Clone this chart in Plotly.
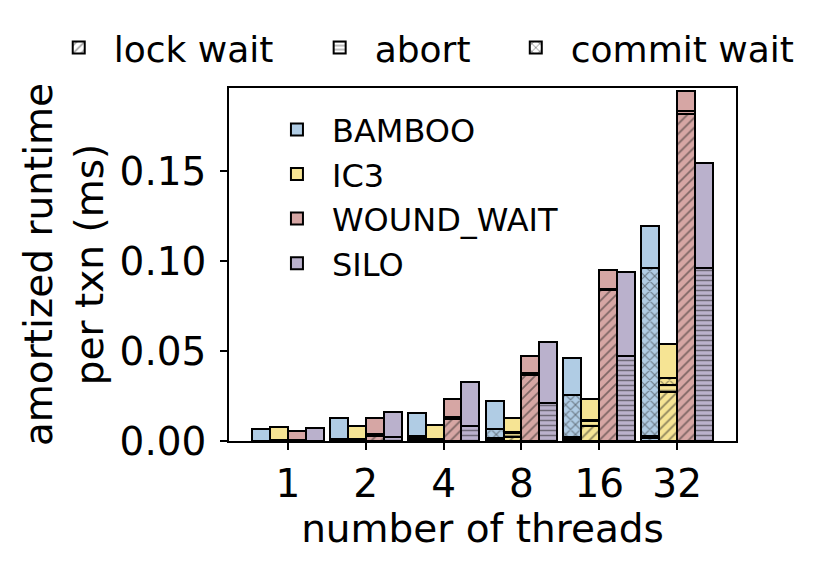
import numpy as np
import plotly.graph_objects as go

# thread counts (x categories) and systems
threads = ["1", "2", "4", "8", "16", "32"]
systems = ["BAMBOO", "IC3", "WOUND_WAIT", "SILO"]
colors = ["#b0cce4", "#f6e494", "#d6a6a4", "#bab1cc"]

# total amortized runtime per txn (ms)
total_bamboo = [0.0065, 0.0128, 0.0158, 0.0221, 0.0463, 0.1197]
total_ic3 = [0.0076, 0.0084, 0.0091, 0.0128, 0.0236, 0.0542]
total_ww = [0.0054, 0.0130, 0.0232, 0.0472, 0.0950, 0.1945]
total_silo = [0.0073, 0.0162, 0.0326, 0.0552, 0.0942, 0.1546]

# lock wait part
lock_bamboo = [0.0, 0.0005, 0.0008, 0.0008, 0.0010, 0.0015]
lock_ic3 = [0.0003, 0.0004, 0.0005, 0.0020, 0.0082, 0.0275]
lock_ww = [0.0002, 0.0030, 0.0125, 0.0368, 0.0838, 0.1822]
lock_silo = [0.0, 0.0, 0.0, 0.0, 0.0, 0.0]

# abort part
abort_bamboo = [0.0, 0.0005, 0.0007, 0.0008, 0.0012, 0.0015]
abort_ic3 = [0.0002, 0.0004, 0.0006, 0.0025, 0.0028, 0.0038]
abort_ww = [0.0001, 0.0007, 0.0009, 0.0008, 0.0008, 0.0013]
abort_silo = [0.0002, 0.0022, 0.0086, 0.0212, 0.0472, 0.0961]

# commit wait part
commit_bamboo = [0.0, 0.0002, 0.0015, 0.0049, 0.0233, 0.0931]
commit_ic3 = [0.0, 0.0001, 0.0001, 0.0005, 0.0008, 0.0035]
commit_ww = [0.0, 0.0, 0.0, 0.0, 0.0, 0.0]
commit_silo = [0.0, 0.0, 0.0, 0.0, 0.0, 0.0]

totals = [total_bamboo, total_ic3, total_ww, total_silo]
locks = [lock_bamboo, lock_ic3, lock_ww, lock_silo]
aborts = [abort_bamboo, abort_ic3, abort_ww, abort_silo]
commits = [commit_bamboo, commit_ic3, commit_ww, commit_silo]

FONT = "DejaVu Sans"
bar_w = 0.23
pos = np.arange(len(threads))

# (name, hatch, hatch spacing, hatch solidity, legend id, legend x in container)
parts = [("lock wait", "/", 7, 0.25, "legend3", 0.043),
         ("abort", "-", 5, 0.3, "legend4", 0.357),
         ("commit wait", "x", 7, 0.3, "legend5", 0.593),
         ("rest", "", 8, 0.2, None, None)]

fig = go.Figure()

for part, shape, psize, sol, _, _ in parts:
    for i, name in enumerate(systems):
        if part == "lock wait":
            vals = np.array(locks[i])
        elif part == "abort":
            vals = np.array(aborts[i])
        elif part == "commit wait":
            vals = np.array(commits[i])
        else:
            vals = np.array(totals[i]) - np.array(locks[i]) - np.array(aborts[i]) - np.array(commits[i])
        fig.add_trace(go.Bar(
            x=pos + (i - 1.5) * bar_w,
            y=vals,
            width=bar_w,
            name=name,
            marker=dict(
                color=colors[i],
                line=dict(color="black", width=2),
                pattern=dict(shape=shape, fgcolor="#222", fillmode="overlay",
                             size=psize, solidity=sol),
            ),
            legend="legend2",
            showlegend=(part == "rest"),
        ))

# hatch legend on top, one legend box per entry so they sit like the original
legend_boxes = {}
for part, shape, psize, sol, leg, lx in parts[:3]:
    fig.add_trace(go.Bar(
        x=[None], y=[None], name=part,
        marker=dict(color="white", line=dict(color="black", width=2),
                    pattern=dict(shape=shape, fgcolor="#222", fillmode="overlay",
                                 size=psize, solidity=sol)),
        legend=leg,
    ))
    legend_boxes[leg] = dict(
        orientation="h", xref="container", yref="container",
        x=lx, xanchor="left", y=0.983, yanchor="top",
        font=dict(family=FONT, size=36), itemwidth=60,
        bgcolor="rgba(0,0,0,0)",
    )

# the page body adds 8px on the left/top, margins below account for it
fig.update_layout(
    width=831, height=569,
    barmode="stack",
    plot_bgcolor="white", paper_bgcolor="white",
    font=dict(family=FONT, size=39, color="black"),
    margin=dict(l=221, r=103, t=80, b=136, autoexpand=False),
    legend=dict(visible=False),
    legend2=dict(
        x=0.065, xanchor="left", y=0.96, yanchor="top",
        font=dict(family=FONT, size=32),
        bgcolor="rgba(0,0,0,0)", itemwidth=60,
        traceorder="normal",
    ),
    **legend_boxes,
)

fig.update_xaxes(
    range=[-0.756, 5.756], tickvals=pos, ticktext=threads,
    showline=True, linecolor="black", linewidth=1.5, mirror=True,
    ticks="outside", ticklen=7, tickwidth=1.5, tickcolor="black",
    showgrid=False, zeroline=False,
    tickfont=dict(size=39),
    title=dict(text="number of threads", font=dict(size=39), standoff=8),
)
fig.update_yaxes(
    range=[0, 0.1964], tickvals=[0, 0.05, 0.10, 0.15], tickformat=".2f",
    showline=True, linecolor="black", linewidth=1.5, mirror=True,
    ticks="outside", ticklen=7, tickwidth=1.5, tickcolor="black",
    ticklabelstandoff=6,
    showgrid=False, zeroline=False,
    tickfont=dict(size=39),
    title=dict(text="amortized runtime<br>per txn (ms)", font=dict(size=39), standoff=4),
)

fig.write_html("out.html")
